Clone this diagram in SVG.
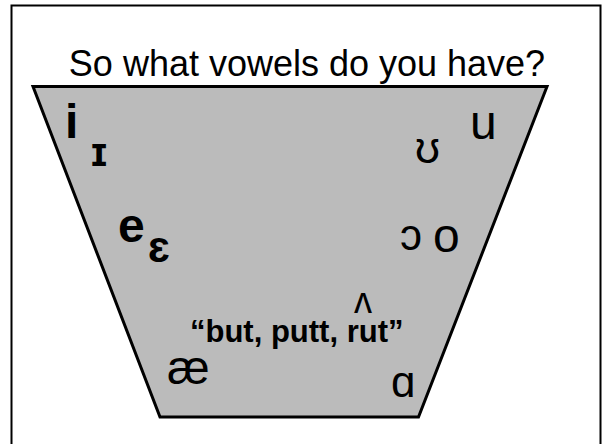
<svg xmlns="http://www.w3.org/2000/svg" width="602" height="444" viewBox="0 0 602 444">
<style>
text{font-family:"Liberation Sans",Arial,"DejaVu Sans",sans-serif;fill:#000}
.v{font-size:48px}
.b{font-weight:bold}
.ipa{font-size:44px}
</style>
<rect x="0" y="0" width="602" height="444" fill="#fff"/>
<rect id="frame" x="11.5" y="5.5" width="589" height="460" fill="none" stroke="#000" stroke-width="2"/>
<g id="title"><text x="307" y="76" font-size="36" text-anchor="middle">So what vowels do you have?</text></g>
<g id="chart"><polygon points="33,86.5 547,86.5 418.5,417 160,417" fill="#bbb" stroke="#000" stroke-width="3"/></g>
<g id="vowels">
<text class="v b" x="65" y="138">i</text>
<text class="b" x="91" y="166" font-size="40">ɪ</text>
<text class="v" x="470" y="139">u</text>
<text class="ipa" x="415" y="163">ʊ</text>
<text class="v b" x="118" y="242">e</text>
<text class="ipa b" x="148" y="262">ɛ</text>
<text class="ipa" x="400" y="250">ɔ</text>
<text class="v" x="433" y="252">o</text>
<text class="v" x="167" y="384">æ</text>
<text class="ipa" x="391" y="397">ɑ</text>
<text x="190" y="342" font-size="31" font-weight="bold">“but, putt, rut”</text>
<text x="354" y="313" font-size="36">ʌ</text>
</g>
</svg>
